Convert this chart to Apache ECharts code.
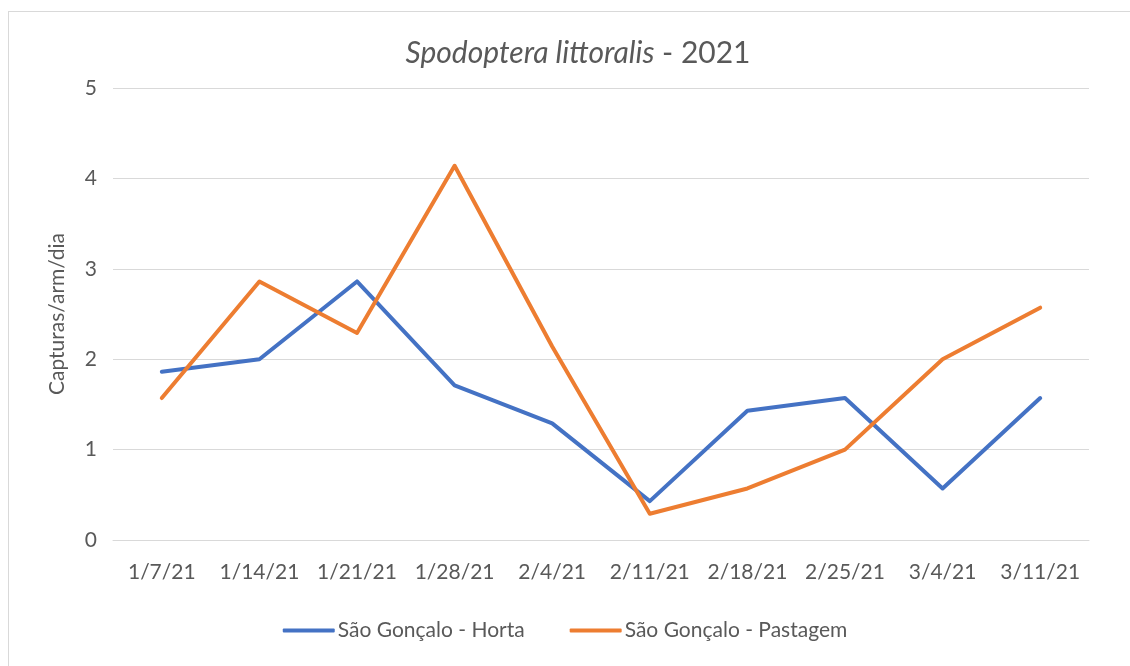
<!DOCTYPE html>
<html><head><meta charset="utf-8">
<script src="https://cdn.jsdelivr.net/npm/echarts@6/dist/echarts.min.js"></script>
<style>html,body{margin:0;padding:0;background:#fff;}#c{width:1130px;height:666px;}
#frame{position:absolute;left:8px;top:11px;width:1200px;height:800px;border:1px solid #d9d9d9;pointer-events:none;}</style>
</head><body>
<div id="c"></div><div id="frame"></div>
<script>
const categories = ['1/7/21','1/14/21','1/21/21','1/28/21','2/4/21','2/11/21','2/18/21','2/25/21','3/4/21','3/11/21'];
const horta = [1.86, 2.00, 2.86, 1.71, 1.29, 0.43, 1.43, 1.57, 0.57, 1.57];
const pastagem = [1.57, 2.86, 2.29, 4.14, 2.14, 0.29, 0.57, 1.00, 2.00, 2.57];
const seriesNames = ['São Gonçalo - Horta', 'São Gonçalo - Pastagem'];
const font = 'Lato, "Open Sans", sans-serif';
const chart = echarts.init(document.getElementById('c'));
chart.setOption({
  animation: false,
  title: {
    text: '{i|Spodoptera littoralis} - 2021',
    left: 573, top: 33, textAlign: 'center',
    textStyle: { fontFamily: font, fontSize: 30, fontWeight: 'normal', color: '#595959',
      rich: { i: { fontFamily: font, fontSize: 30, fontStyle: 'italic', color: '#595959' } } }
  },
  grid: { left: 113, right: 41, top: 88, bottom: 126, containLabel: false },
  legend: {
    bottom: 20, left: 'center', itemGap: 45, itemWidth: 52, itemHeight: 4,
    icon: 'roundRect',
    textStyle: { fontFamily: font, fontSize: 21, color: '#595959', padding: [0,0,0,-2] },
    data: seriesNames
  },
  xAxis: {
    type: 'category', data: categories, boundaryGap: true,
    axisLine: { lineStyle: { color: '#d9d9d9', width: 1 } },
    axisTick: { show: false },
    axisLabel: { fontFamily: font, fontSize: 21, color: '#595959', margin: 22, interval: 0 }
  },
  yAxis: {
    type: 'value', min: 0, max: 5, interval: 1,
    name: 'Capturas/arm/dia', nameLocation: 'middle', nameGap: 45, nameRotate: 90,
    nameTextStyle: { fontFamily: font, fontSize: 21, color: '#595959' },
    axisLine: { show: false }, axisTick: { show: false },
    axisLabel: { fontFamily: font, fontSize: 21, color: '#595959', margin: 16 },
    splitLine: { lineStyle: { color: '#d9d9d9', width: 1 } }
  },
  series: [
    { name: seriesNames[0], type: 'line', data: horta, symbol: 'none',
      lineStyle: { color: '#4472C4', width: 4, cap: 'round', join: 'round' }, itemStyle: { color: '#4472C4' } },
    { name: seriesNames[1], type: 'line', data: pastagem, symbol: 'none',
      lineStyle: { color: '#ED7D31', width: 4, cap: 'round', join: 'round' }, itemStyle: { color: '#ED7D31' } }
  ]
});
</script>
</body></html>
